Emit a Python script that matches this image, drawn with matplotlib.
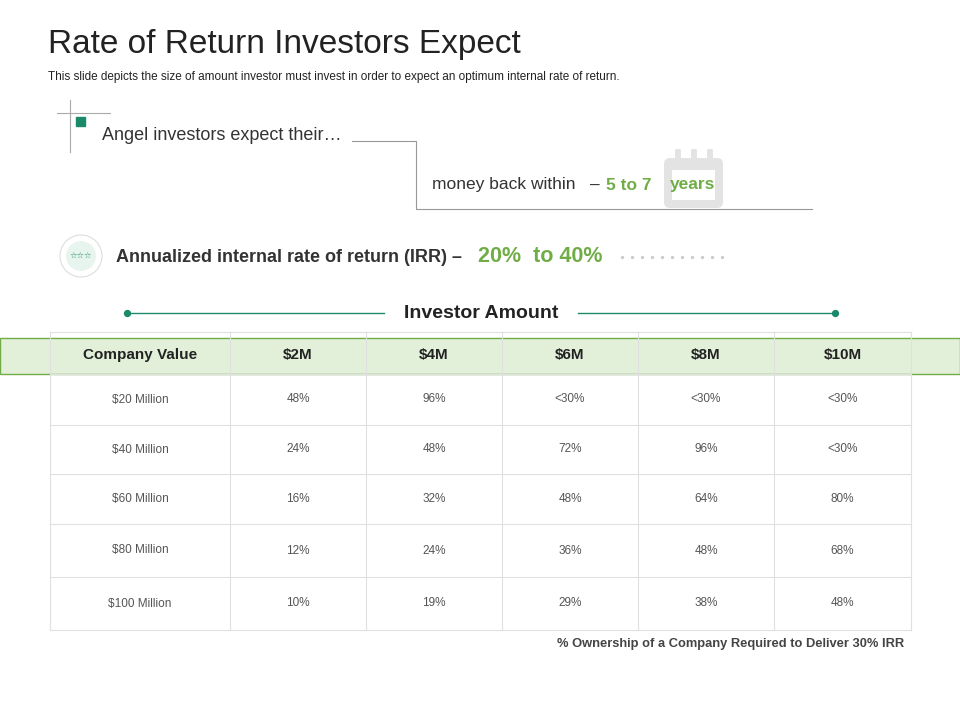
import matplotlib.pyplot as plt
from matplotlib.patches import Rectangle, FancyBboxPatch, Circle

header = ["Company Value", "$2M", "$4M", "$6M", "$8M", "$10M"]
companies = ["$20 Million", "$40 Million", "$60 Million", "$80 Million", "$100 Million"]
cells = [
    ["48%", "96%", "<30%", "<30%", "<30%"],
    ["24%", "48%", "72%", "96%", "<30%"],
    ["16%", "32%", "48%", "64%", "80%"],
    ["12%", "24%", "36%", "48%", "68%"],
    ["10%", "19%", "29%", "38%", "48%"],
]

col_x = [50, 230, 366, 502, 638, 774, 911]
row_y = [374, 425, 474, 524, 577, 630]

GREEN = "#70ad47"
TEAL = "#1a8a6a"
GRID = "#e0e0e0"
FONT = "Liberation Sans"

fig = plt.figure(figsize=(9.6, 7.2), dpi=100)
ax = fig.add_axes([0, 0, 1, 1])
ax.set_xlim(0, 960)
ax.set_ylim(720, 0)
ax.axis("off")

ax.text(48, 45, "Rate of Return Investors Expect", fontsize=24, family=FONT, color="#222", va="center")
ax.text(48, 77, "This slide depicts the size of amount investor must invest in order to expect an optimum internal rate of return.",
        fontsize=8.5, family=FONT, color="#222", va="center")

# top callout
ax.plot([57, 110], [113, 113], color="#aaa", lw=0.8)
ax.plot([70, 70], [100, 152], color="#aaa", lw=0.8)
ax.add_patch(Rectangle((76, 117), 9, 9, color=TEAL))
ax.text(102, 136, "Angel investors expect their\u2026", fontsize=13, family=FONT, color="#333", va="center")
ax.plot([352, 416, 416, 812], [141, 141, 209, 209], color="#999", lw=0.8)
ax.add_patch(FancyBboxPatch((666, 160), 55, 46, boxstyle="round,pad=2,rounding_size=6", fc="#e3e3e3", ec="none"))
ax.add_patch(Rectangle((672, 170), 43, 30, fc="white", ec="none"))
for cx in (678, 694, 710):
    ax.add_patch(FancyBboxPatch((cx - 2, 150), 4, 12, boxstyle="round,pad=1", fc="#e3e3e3", ec="none"))
ax.text(432, 185, "money back within", fontsize=12.5, family=FONT, color="#333", va="center")
ax.text(590, 185, "\u2013", fontsize=12.5, family=FONT, color="#333", va="center")
ax.text(606, 185, "5 to 7", fontsize=12.5, family=FONT, color=GREEN, va="center", weight="bold")
ax.text(670, 185, "years", fontsize=12.5, family=FONT, color=GREEN, va="center", weight="bold")

# IRR line
ax.add_patch(Circle((81, 256), 21, fc="white", ec="#ddd", lw=0.8))
ax.add_patch(Circle((81, 256), 15, fc="#e8f4ee", ec="none"))
ax.text(81, 256, "\u2606\u2606\u2606", fontsize=6, color=TEAL, ha="center", va="center")
ax.text(116, 257, "Annualized internal rate of return (IRR) \u2013", fontsize=13, family=FONT, color="#333",
        va="center", weight="bold")
ax.text(478, 257, "20%  to 40%", fontsize=15.5, family=FONT, color=GREEN, va="center", weight="bold")
ax.scatter(range(622, 732, 10), [257] * 11, s=2, color="#ccc")

# investor amount heading
ax.plot([127, 384], [313, 313], color=TEAL, lw=1)
ax.plot([578, 835], [313, 313], color=TEAL, lw=1)
ax.scatter([127, 835], [313, 313], s=18, color=TEAL, zorder=3)
ax.text(481, 313, "Investor Amount", fontsize=14, family=FONT, color="#222", ha="center", va="center", weight="bold")

# table
ax.add_patch(Rectangle((0, 338), 960, 36, fc="#e2f0d9", ec=GREEN, lw=1, zorder=1))
for x in col_x:
    ax.plot([x, x], [332, row_y[-1]], color=GRID, lw=0.8, zorder=2)
for y in [332] + row_y:
    ax.plot([col_x[0], col_x[-1]], [y, y], color=GRID, lw=0.8, zorder=2)
for j, h in enumerate(header):
    ax.text((col_x[j] + col_x[j + 1]) / 2, 355, h, fontsize=11, family=FONT, weight="bold",
            color="#222", ha="center", va="center", zorder=3)
for i, comp in enumerate(companies):
    yc = (row_y[i] + row_y[i + 1]) / 2
    row = [comp] + cells[i]
    for j, v in enumerate(row):
        ax.text((col_x[j] + col_x[j + 1]) / 2, yc, v, fontsize=8.5, family=FONT, color="#555",
                ha="center", va="center")

ax.text(904, 644, "% Ownership of a Company Required to Deliver 30% IRR", fontsize=9.3, family=FONT,
        weight="bold", color="#444", ha="right", va="center")

fig.savefig("out.png", dpi=100)
